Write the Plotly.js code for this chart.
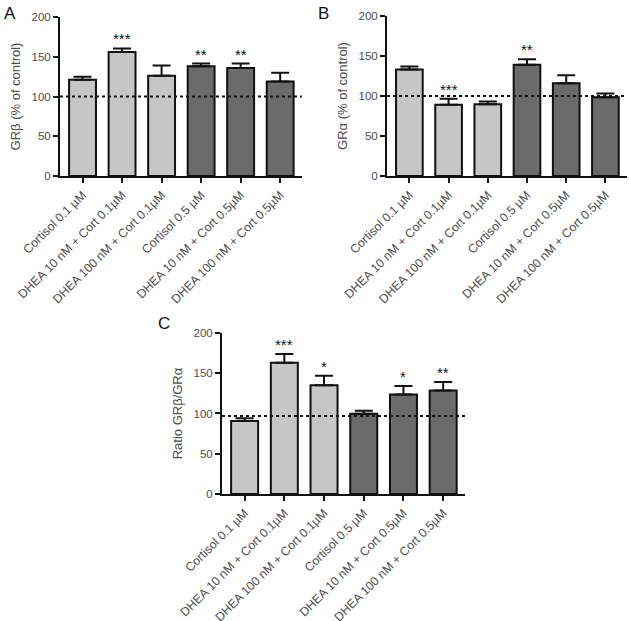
<!DOCTYPE html>
<html>
<head>
<meta charset="utf-8">
<script src="https://cdn.plot.ly/plotly-3.0.1.min.js"></script>
<style>html,body{margin:0;padding:0;background:#fff;}#chart{width:629px;height:621px;}</style>
</head>
<body>
<div id="chart"></div>
<script>
const categories = ["Cortisol 0.1 µM", "DHEA 10 nM + Cort 0.1µM", "DHEA 100 nM + Cort 0.1µM",
                    "Cortisol 0.5 µM", "DHEA 10 nM + Cort 0.5µM", "DHEA 100 nM + Cort 0.5µM"];
const groupColors = ["light", "light", "light", "dark", "dark", "dark"];

const valuesA = [121, 156, 126, 138, 136, 119];
const errTopA = [125, 160.5, 139, 141.5, 141.5, 130];
const sigA = ["", "***", "", "**", "**", ""];

const valuesB = [133, 89, 89.6, 139, 116, 98.5];
const errTopB = [137, 96.7, 93, 146, 126, 103];
const sigB = ["", "***", "", "**", "", ""];

const valuesC = [90.7, 163, 135, 99.8, 123.7, 128.7];
const errTopC = [94, 174, 147, 103.5, 134, 139];
const sigC = ["", "***", "*", "", "*", "**"];

const refA = 100, refB = 100, refC = 97;

const colorMap = {light: "#c6c6c6", dark: "#6b6b6b"};
const textGray = "#4d4d4d";
const font = "Liberation Sans, Arial, sans-serif";

function barTrace(vals, errTop, xa, ya) {
  return {
    type: "bar", x: categories, y: vals, xaxis: xa, yaxis: ya,
    width: 0.68,
    marker: {color: groupColors.map(g => colorMap[g]), line: {color: "#111", width: 2}},
    error_y: {type: "data", symmetric: false, array: errTop.map((e, i) => e - vals[i]),
              arrayminus: vals.map(() => 0), color: "#111", thickness: 2, width: 9},
    hoverinfo: "none", showlegend: false
  };
}

function xAxis(domain, anchor) {
  return {domain: domain, anchor: anchor, type: "category", range: [-0.57, 5.55],
          showline: true, linecolor: "#111", linewidth: 2, ticks: "outside", ticklen: 5,
          tickwidth: 2, tickcolor: "#111", tickangle: -45, showgrid: false, zeroline: false,
          tickfont: {family: font, size: 12.3, color: textGray}, automargin: false, fixedrange: true};
}
function yAxis(domain, anchor, title) {
  return {domain: domain, anchor: anchor, range: [0, 200], tickvals: [0, 50, 100, 150, 200],
          showline: true, linecolor: "#111", linewidth: 2, ticks: "outside", ticklen: 5,
          tickwidth: 2, tickcolor: "#111", showgrid: false, zeroline: false,
          tickfont: {family: font, size: 11.5, color: textGray},
          title: {text: title, font: {family: font, size: 13, color: textGray}, standoff: 8},
          automargin: false, fixedrange: true};
}

function refLine(xa, ya, y) {
  return {type: "line", xref: xa + " domain", yref: ya, x0: 0, x1: 1, y0: y, y1: y,
          line: {color: "#111", width: 2, dash: "dot"}};
}

function sigAnn(sig, errTop, xa, ya) {
  const out = [];
  sig.forEach((s, i) => {
    if (s) out.push({xref: xa, yref: ya, x: categories[i], y: errTop[i], text: s,
      showarrow: false, yanchor: "bottom", yshift: -1,
      font: {family: font, size: 15, color: "#111"}});
  });
  return out;
}

const data = [
  barTrace(valuesA, errTopA, "x", "y"),
  barTrace(valuesB, errTopB, "x2", "y2"),
  barTrace(valuesC, errTopC, "x3", "y3")
];

const layout = {
  width: 629, height: 621, margin: {l: 0, r: 0, t: 0, b: 0},
  paper_bgcolor: "#fff", plot_bgcolor: "rgba(0,0,0,0)",
  xaxis: xAxis([0.0954, 0.480], "y"),
  yaxis: yAxis([0.7166, 0.9726], "x", "GRβ (% of control)"),
  xaxis2: xAxis([0.6153, 0.9968], "y2"),
  yaxis2: yAxis([0.7166, 0.9742], "x2", "GRα (% of control)"),
  xaxis3: xAxis([0.3529, 0.7393], "y3"),
  yaxis3: yAxis([0.2045, 0.4638], "x3", "Ratio GRβ/GRα"),
  shapes: [refLine("x", "y", refA), refLine("x2", "y2", refB), refLine("x3", "y3", refC)],
  annotations: [
    ...sigAnn(sigA, errTopA, "x", "y"),
    ...sigAnn(sigB, errTopB, "x2", "y2"),
    ...sigAnn(sigC, errTopC, "x3", "y3"),
    {xref: "paper", yref: "paper", x: 2/629, y: 1 - 2/621, xanchor: "left", yanchor: "top",
     text: "A", showarrow: false, font: {family: font, size: 17, color: "#111"}},
    {xref: "paper", yref: "paper", x: 316/629, y: 1 - 2/621, xanchor: "left", yanchor: "top",
     text: "B", showarrow: false, font: {family: font, size: 17, color: "#111"}},
    {xref: "paper", yref: "paper", x: 156/629, y: 1 - 312/621, xanchor: "left", yanchor: "top",
     text: "C", showarrow: false, font: {family: font, size: 17, color: "#111"}}
  ],
  bargap: 0.3
};

Plotly.newPlot("chart", data, layout, {staticPlot: true});
</script>
</body>
</html>
